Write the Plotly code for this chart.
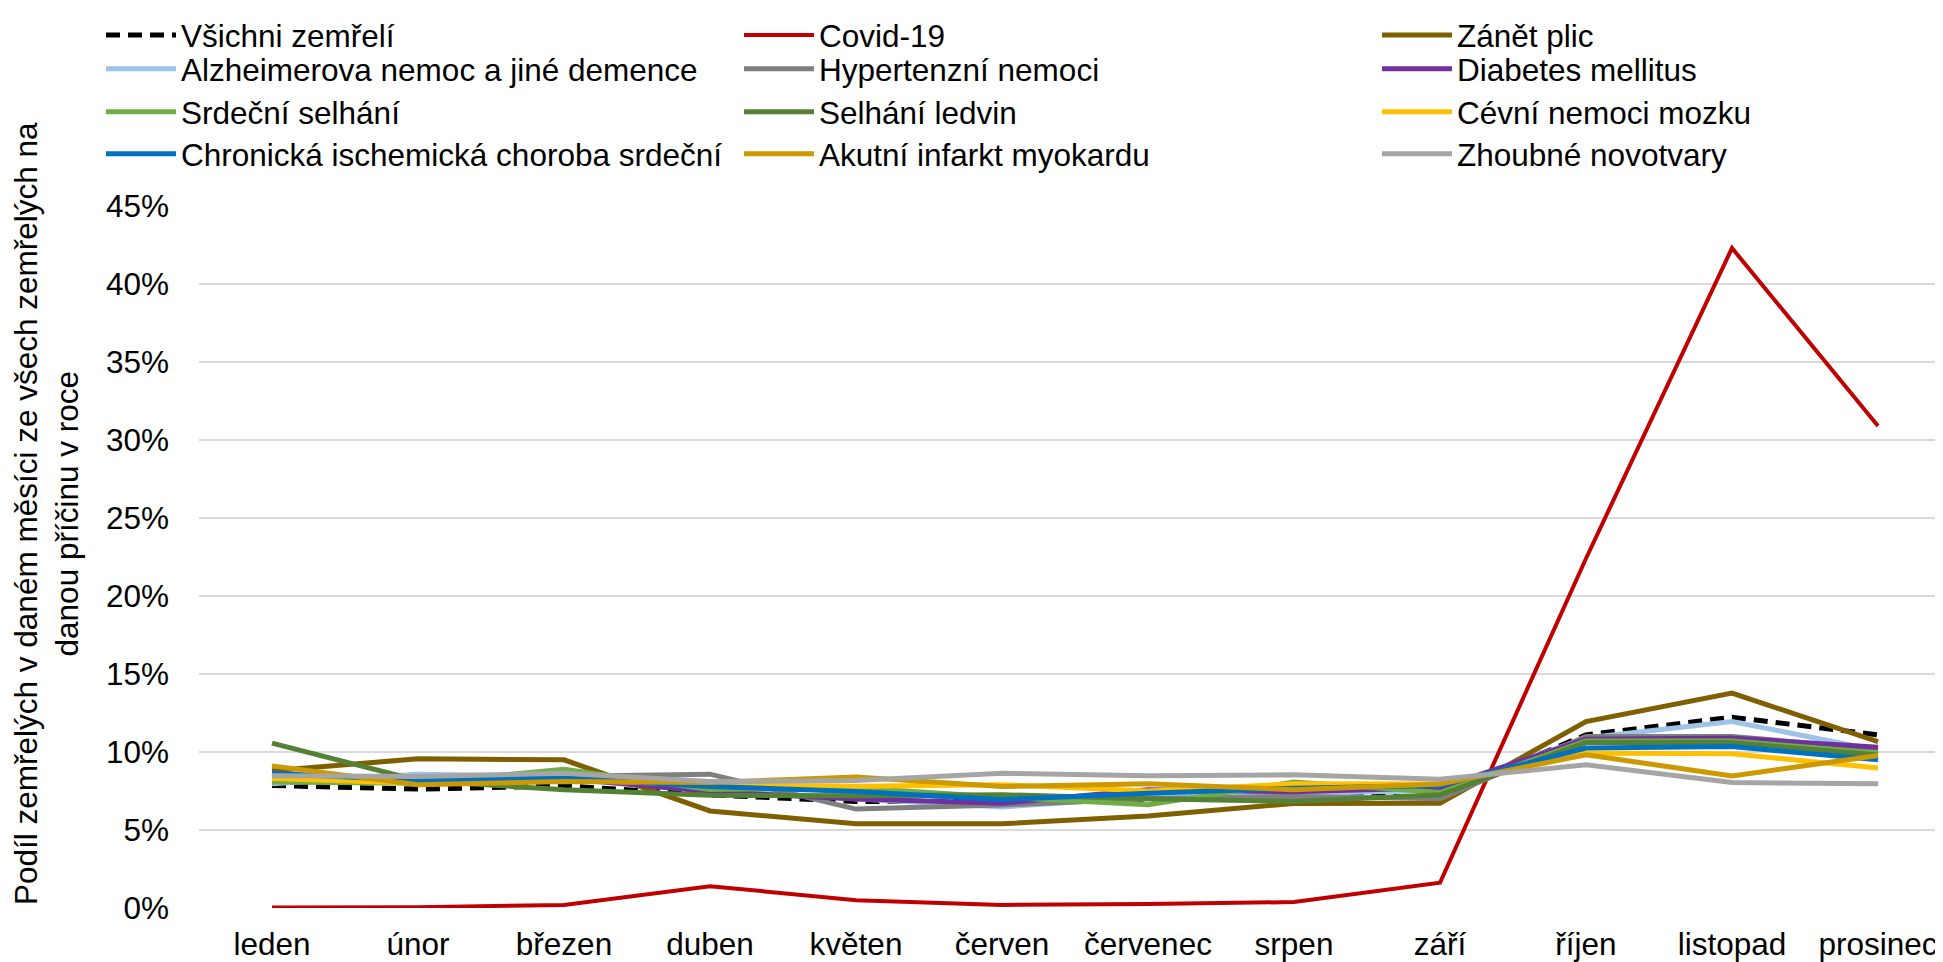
import plotly.graph_objects as go

months = ["leden", "únor", "březen", "duben", "květen", "červen", "červenec",
          "srpen", "září", "říjen", "listopad", "prosinec"]

vsichni = [7.85, 7.62, 7.83, 7.25, 6.83, 6.85, 6.98, 7.15, 7.15, 11.1, 12.23, 11.1]
covid = [0.03, 0.05, 0.2, 1.4, 0.5, 0.2, 0.26, 0.38, 1.62, 22.4, 42.3, 30.9]
zanet = [8.8, 9.56, 9.5, 6.22, 5.4, 5.4, 5.9, 6.7, 6.72, 11.95, 13.77, 10.67]
alzheimer = [7.96, 8.58, 8.45, 7.6, 7.0, 6.47, 7.1, 7.33, 7.55, 10.9, 11.95, 10.1]
hypertenzni = [8.4, 8.3, 8.45, 8.58, 6.34, 6.6, 7.0, 7.15, 7.0, 11.0, 11.0, 10.18]
diabetes = [8.2, 8.1, 8.3, 7.47, 6.98, 6.72, 7.58, 7.45, 7.7, 10.82, 10.89, 10.31]
srdecni = [8.07, 8.0, 8.9, 7.6, 7.7, 7.1, 6.62, 8.07, 7.4, 10.7, 10.71, 9.93]
ledviny = [10.57, 8.17, 7.58, 7.22, 7.2, 7.26, 7.0, 6.83, 7.26, 10.6, 10.6, 9.8]
cevni = [8.3, 8.0, 8.2, 7.9, 7.8, 7.9, 7.5, 7.96, 7.95, 9.93, 9.88, 8.97]
chronicka = [8.64, 8.17, 8.33, 7.79, 7.47, 6.94, 7.36, 7.68, 7.85, 10.25, 10.35, 9.5]
akutni = [9.11, 7.9, 8.11, 8.05, 8.39, 7.79, 7.96, 7.58, 7.95, 9.82, 8.47, 9.77]
zhoubne = [8.47, 8.43, 8.64, 8.11, 8.17, 8.64, 8.47, 8.54, 8.25, 9.18, 8.04, 7.96]

y_ticks = [0, 5, 10, 15, 20, 25, 30, 35, 40, 45]
y_tick_labels = ["0%", "5%", "10%", "15%", "20%", "25%", "30%", "35%", "40%", "45%"]

# name, values, colour, legend column, legend row
series = [
    ("Všichni zemřelí", vsichni, "#000000", 0, 0),
    ("Covid-19", covid, "#C00000", 1, 0),
    ("Zánět plic", zanet, "#7F6000", 2, 0),
    ("Alzheimerova nemoc a jiné demence", alzheimer, "#9DC3E6", 0, 1),
    ("Hypertenzní nemoci", hypertenzni, "#7F7F7F", 1, 1),
    ("Diabetes mellitus", diabetes, "#7030A0", 2, 1),
    ("Srdeční selhání", srdecni, "#70AD47", 0, 2),
    ("Selhání ledvin", ledviny, "#548235", 1, 2),
    ("Cévní nemoci mozku", cevni, "#FFC000", 2, 2),
    ("Chronická ischemická choroba srdeční", chronicka, "#0070C0", 0, 3),
    ("Akutní infarkt myokardu", akutni, "#CC9900", 1, 3),
    ("Zhoubné novotvary", zhoubne, "#A5A5A5", 2, 3),
]

FONT = "Liberation Sans, Arial, sans-serif"
FS = 31.5
W, H = 1943, 962
L, R, T, B = 191, 8, 197, 62
plot_w = W - L - R
plot_h = H - T - B

col_x = [93, 731, 1369]
row_top = [-14.5, 33.8, 76.8, 118.8]

fig = go.Figure()
legends = {}
for i, (name, vals, color, col, row) in enumerate(series):
    key = "legend" if i == 0 else f"legend{i + 1}"
    dash = "14px,8px" if name == "Všichni zemřelí" else "solid"
    width = 4 if name == "Covid-19" else 5
    fig.add_trace(go.Scatter(
        x=months, y=vals, name=name, mode="lines",
        line=dict(color=color, width=width, dash=dash),
        legend=key,
    ))
    legends[key] = dict(
        xref="container", yref="container",
        x=col_x[col] / W, y=1 - row_top[row] / H, xanchor="left", yanchor="top",
        orientation="v", font=dict(family=FONT, size=FS, color="#000000"),
        itemwidth=70, bgcolor="rgba(0,0,0,0)",
    )

fig.update_layout(
    width=W, height=H,
    margin=dict(l=L, r=R, t=T, b=B, autoexpand=False),
    paper_bgcolor="white", plot_bgcolor="white",
    font=dict(family=FONT, size=FS, color="#000000"),
    showlegend=True,
    xaxis=dict(
        type="category", range=[-0.5, -0.5 + plot_w / 146],
        showgrid=False, zeroline=False, showline=False, ticks="",
        tickfont=dict(family=FONT, size=FS, color="#000000"),
        ticklabelstandoff=14, automargin=False, fixedrange=True,
    ),
    yaxis=dict(
        range=[0, 45.06], tickmode="array", tickvals=y_ticks, ticktext=y_tick_labels,
        showgrid=True, gridcolor="#D9D9D9", gridwidth=2,
        zeroline=False, showline=False, ticks="",
        tickfont=dict(family=FONT, size=FS, color="#000000"),
        ticklabelstandoff=29, automargin=False, fixedrange=True,
    ),
    annotations=[dict(
        xref="paper", yref="paper", x=(38 - L) / plot_w, y=(H - B - 506) / plot_h,
        xanchor="center", yanchor="middle", textangle=-90, showarrow=False,
        text="Podíl zemřelých v daném měsíci ze všech zemřelých na<br>danou příčinu v roce",
        font=dict(family=FONT, size=FS, color="#000000"),
    )],
    **legends,
)

fig.write_html("out.html")
